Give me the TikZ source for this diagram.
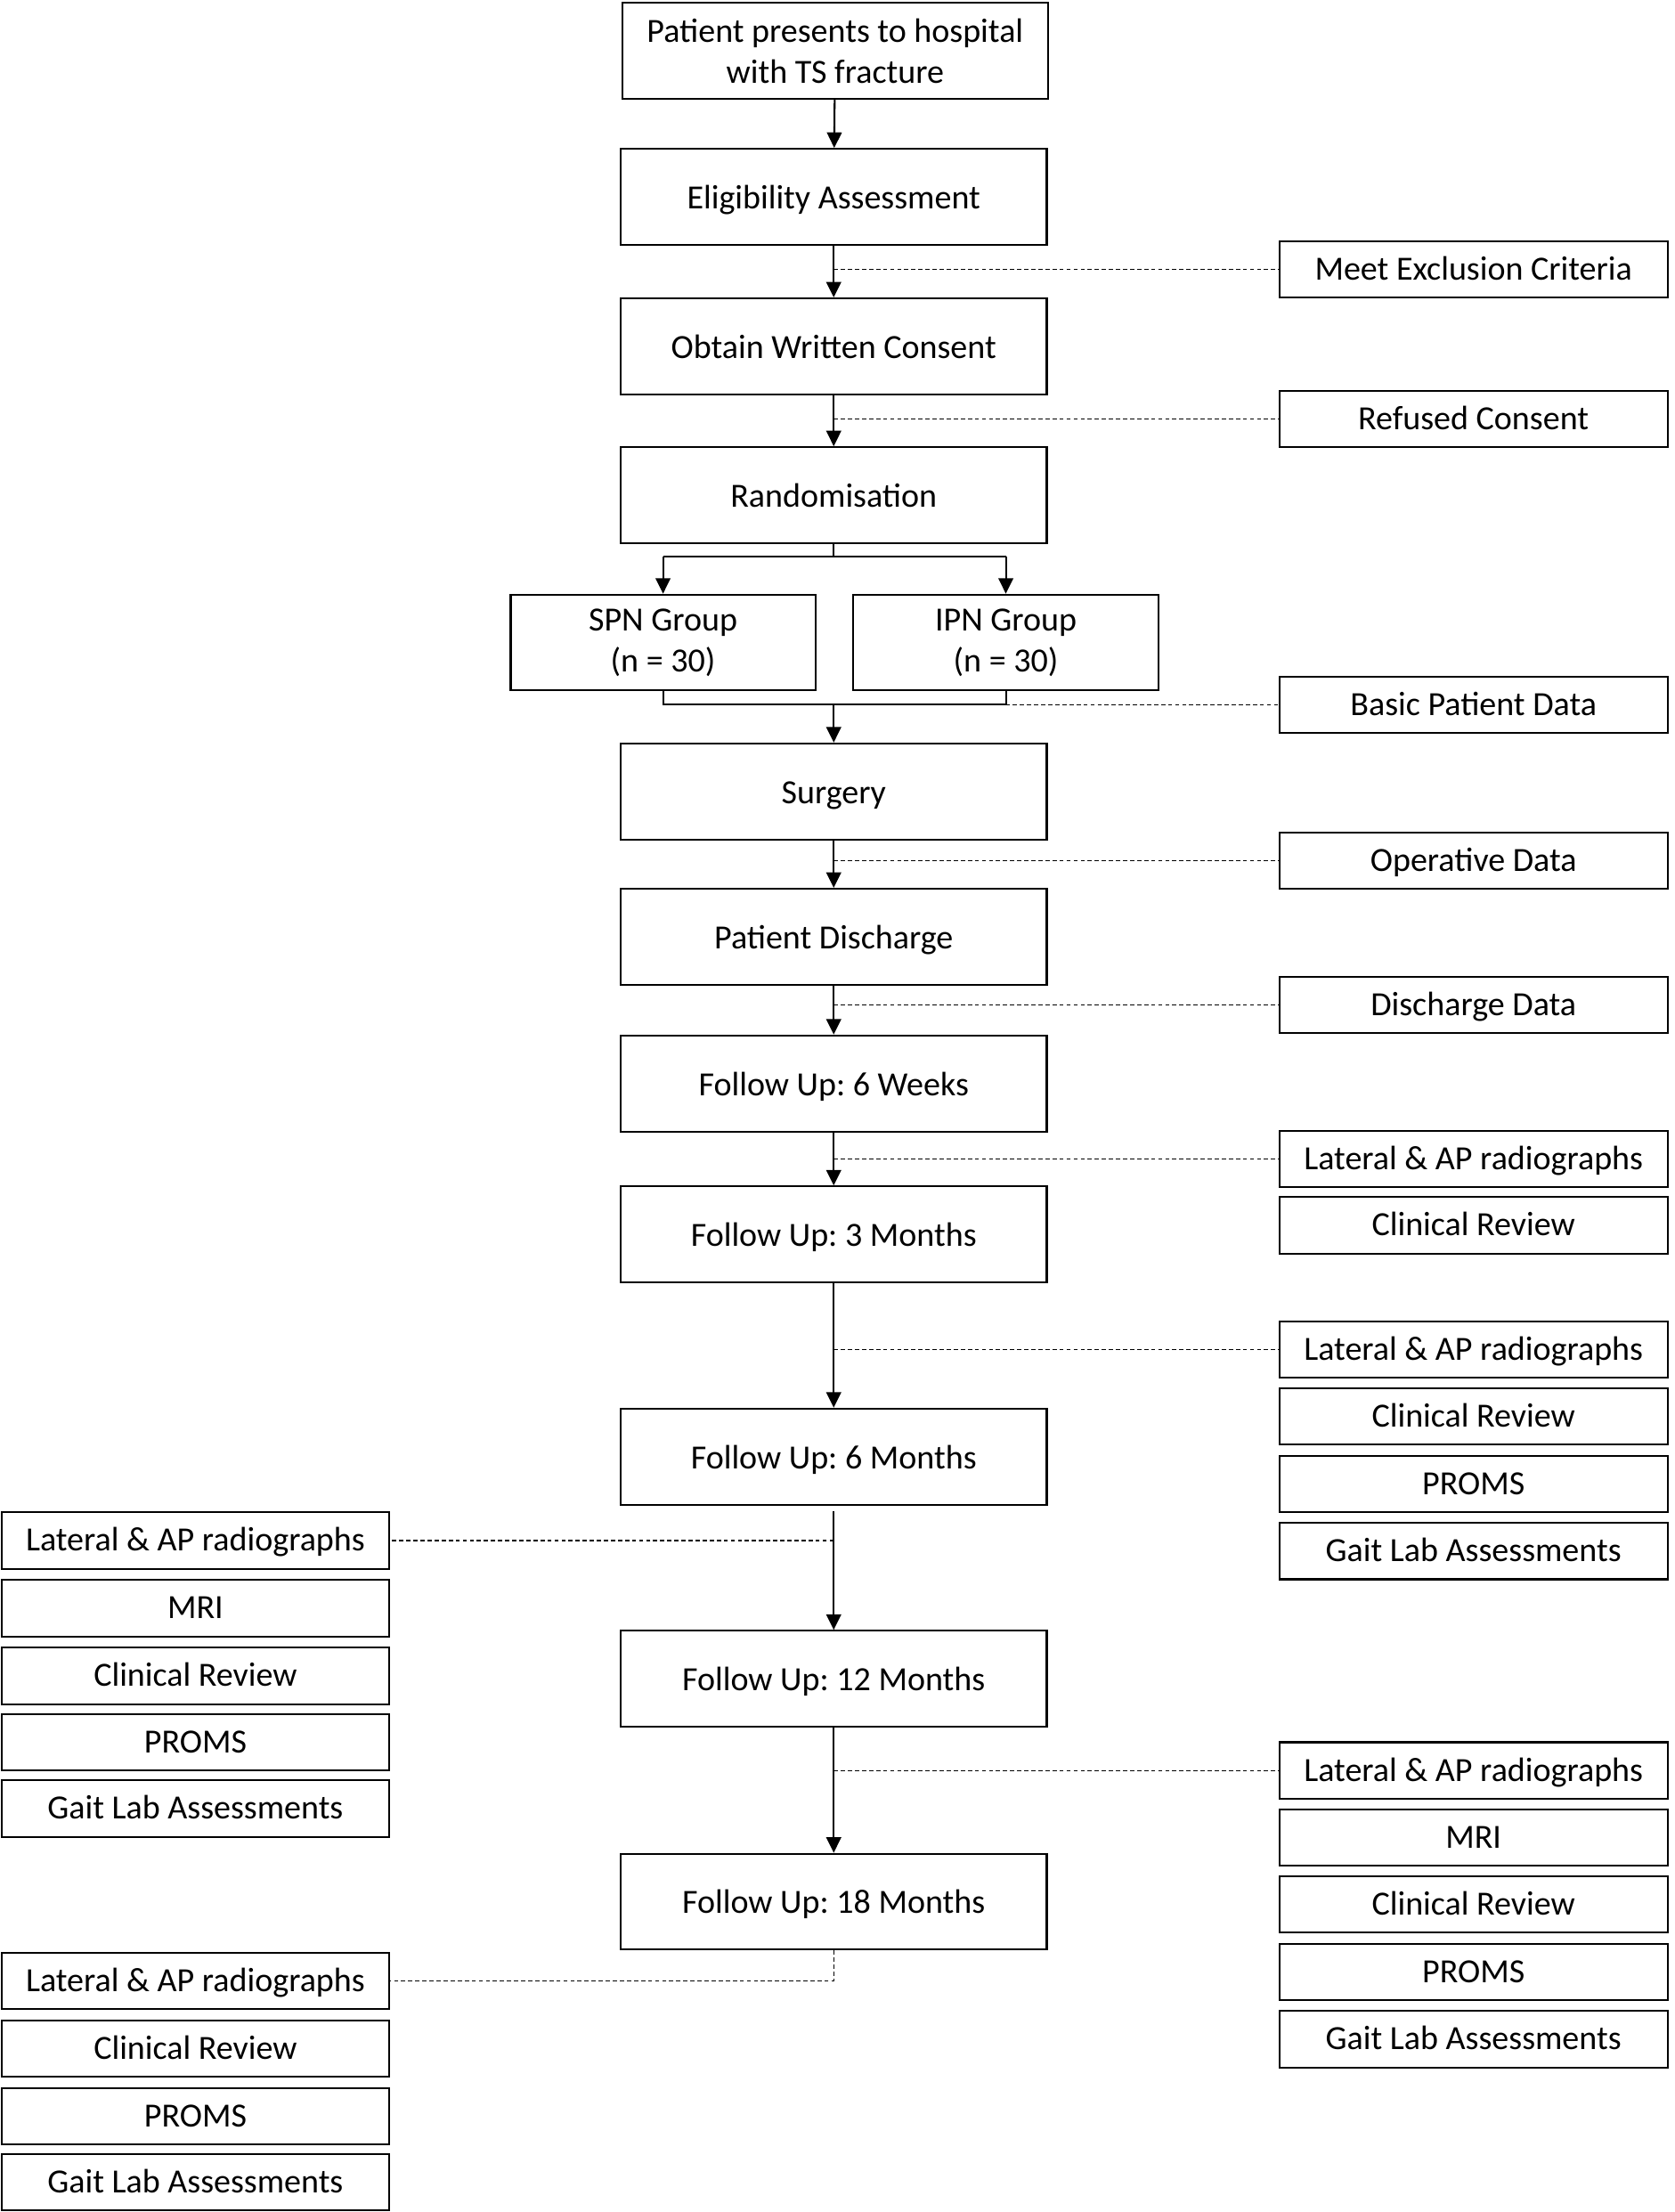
\documentclass[tikz,border=0pt]{standalone}
\usepackage{fontspec}
\setmainfont{Carlito}
\usetikzlibrary{arrows.meta,calc}
\begin{document}
\frenchspacing
\begin{tikzpicture}[x=1pt,y=-1pt,
  basebox/.style={draw,line width=1.3pt,align=center,inner sep=0pt,font=\fontsize{24}{29}\selectfont\frenchspacing},
  mainbox/.style={basebox,minimum width=302pt,minimum height=68pt,text height=22pt,text depth=5pt},
  twobox/.style={basebox,minimum width=302pt,minimum height=68pt},
  grpbox/.style={basebox,minimum width=216pt,minimum height=68pt},
  sidebox/.style={basebox,minimum width=275pt,minimum height=40pt,text height=20pt,text depth=5pt},
  arr/.style={line width=1.3pt,-{Triangle[length=11pt,width=10.5pt]}},
  solidline/.style={line width=1.3pt},
  dashline/.style={line width=0.85pt,dash pattern=on 3pt off 2pt}]
\useasboundingbox (0,0) rectangle (1187,1568);
% main column
\node[twobox] (p1) at (592,36) {Patient presents to hospital\\with TS fracture};
\node[mainbox] (elig) at (591,139.5) {Eligibility Assessment};
\node[mainbox] (cons) at (591,245.5) {Obtain Written Consent};
\node[mainbox] (rand) at (591,351) {Randomisation};
\node[grpbox] (spn) at (470,455.5) {SPN Group\\(n = 30)};
\node[grpbox] (ipn) at (713,455.5) {IPN Group\\(n = 30)};
\node[mainbox] (surg) at (591,561) {Surgery};
\node[mainbox] (disc) at (591,664) {Patient Discharge};
\node[mainbox] (fu6w) at (591,768) {Follow Up: 6 Weeks};
\node[mainbox] (fu3m) at (591,875) {Follow Up: 3 Months};
\node[mainbox] (fu6m) at (591,1032.5) {Follow Up: 6 Months};
\node[mainbox] (fu12m) at (591,1190) {Follow Up: 12 Months};
\node[mainbox] (fu18m) at (591,1348) {Follow Up: 18 Months};
% right side boxes
\node[sidebox] (exc) at (1044.5,191) {Meet Exclusion Criteria};
\node[sidebox] (ref) at (1044.5,297) {Refused Consent};
\node[sidebox] (bpd) at (1044.5,499.5) {Basic Patient Data};
\node[sidebox] (opd) at (1044.5,610) {Operative Data};
\node[sidebox] (dcd) at (1044.5,712.5) {Discharge Data};
\node[sidebox] (ra1) at (1044.5,821.5) {Lateral \& AP radiographs};
\node[sidebox] (ra2) at (1044.5,868.5) {Clinical Review};
\node[sidebox] (rb1) at (1044.5,956.5) {Lateral \& AP radiographs};
\node[sidebox] (rb2) at (1044.5,1004) {Clinical Review};
\node[sidebox] (rb3) at (1044.5,1052) {PROMS};
\node[sidebox] (rb4) at (1044.5,1099.5) {Gait Lab Assessments};
\node[sidebox] (rc1) at (1044.5,1255) {Lateral \& AP radiographs};
\node[sidebox] (rc2) at (1044.5,1302.5) {MRI};
\node[sidebox] (rc3) at (1044.5,1350) {Clinical Review};
\node[sidebox] (rc4) at (1044.5,1398) {PROMS};
\node[sidebox] (rc5) at (1044.5,1445.5) {Gait Lab Assessments};
% left side boxes
\node[sidebox] (la1) at (138.5,1092) {Lateral \& AP radiographs};
\node[sidebox] (la2) at (138.5,1140) {MRI};
\node[sidebox] (la3) at (138.5,1188) {Clinical Review};
\node[sidebox] (la4) at (138.5,1235) {PROMS};
\node[sidebox] (la5) at (138.5,1282) {Gait Lab Assessments};
\node[sidebox] (lb1) at (138.5,1404) {Lateral \& AP radiographs};
\node[sidebox] (lb2) at (138.5,1452) {Clinical Review};
\node[sidebox] (lb3) at (138.5,1500) {PROMS};
\node[sidebox] (lb4) at (138.5,1547) {Gait Lab Assessments};
% main arrows
\draw[arr] (p1) -- (elig);
\draw[arr] (elig) -- (cons);
\draw[arr] (cons) -- (rand);
\coordinate (sp) at ($(rand.south)+(0,9)$);
\draw[solidline] (rand.south) -- (sp);
\draw[solidline] (spn.north |- sp) -- (ipn.north |- sp);
\draw[arr] (spn.north |- sp) -- (spn.north);
\draw[arr] (ipn.north |- sp) -- (ipn.north);
\coordinate (mg) at (591,499.5);
\draw[solidline] (spn.south) -- (spn.south |- mg) -- (ipn.south |- mg) -- (ipn.south);
\draw[arr] (mg) -- (surg.north);
\draw[arr] (surg) -- (disc);
\draw[arr] (disc) -- (fu6w);
\draw[arr] (fu6w) -- (fu3m);
\draw[arr] (fu3m) -- (fu6m);
\draw[arr] ($(fu6m.south)+(0,4)$) -- (fu12m.north);
\draw[arr] (fu12m) -- (fu18m);
% dashed connectors
\draw[dashline] (elig.south |- exc.west) -- (exc.west);
\draw[dashline] (cons.south |- ref.west) -- (ref.west);
\draw[dashline] (ipn.south |- bpd.west) -- (bpd.west);
\draw[dashline] (surg.south |- opd.west) -- (opd.west);
\draw[dashline] (disc.south |- dcd.west) -- (dcd.west);
\draw[dashline] (fu6w.south |- ra1.west) -- (ra1.west);
\draw[dashline] (fu3m.south |- rb1.west) -- (rb1.west);
\draw[dashline] (fu6m.south |- la1.east) -- (la1.east);
\draw[dashline] (fu12m.south |- rc1.west) -- (rc1.west);
\draw[dashline] (fu18m.south) -- (fu18m.south |- lb1.east) -- (lb1.east);
\end{tikzpicture}
\end{document}
